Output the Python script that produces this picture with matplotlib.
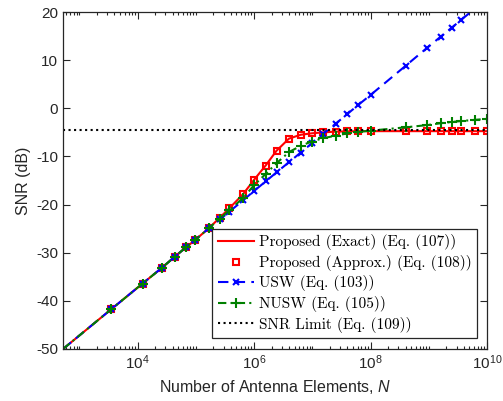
import numpy as np
import matplotlib
matplotlib.use('Agg')
import matplotlib.pyplot as plt
from matplotlib.ticker import FixedLocator, FixedFormatter, NullFormatter

plt.rcParams['font.family'] = ['Liberation Sans', 'DejaVu Sans']
plt.rcParams['mathtext.fontset'] = 'custom'
plt.rcParams['mathtext.rm'] = 'Liberation Sans'
plt.rcParams['mathtext.it'] = 'Liberation Sans:italic'
plt.rcParams['axes.unicode_minus'] = False

#--① data (first entry = start of curves at the left edge)
N = [5.25e2, 3.57e3, 1.22e4, 2.58e4, 4.38e4, 6.76e4, 9.66e4, 1.68e5, 2.59e5,
     3.75e5, 6.52e5, 9.95e5, 1.58e6, 2.44e6, 3.98e6, 6.32e6, 9.77e6, 1.55e7,
     2.52e7, 3.99e7, 6.17e7, 1.01e8, 4.03e8, 9.25e8, 1.61e9, 2.48e9, 3.59e9,
     6.24e9, 1.0e10]
snr_exact = [-50, -41.7, -36.4, -33.2, -30.8, -28.9, -27.4, -24.9, -22.7,
             -20.8, -17.8, -14.9, -11.9, -8.8, -6.3, -5.5, -5.2, -5.0,
             -4.85, -4.8, -4.75, -4.75, -4.75, -4.75, -4.75, -4.75, -4.75,
             -4.75, -4.75]
snr_approx = snr_exact
snr_usw = [-50, -41.7, -36.4, -33.2, -30.8, -28.9, -27.4, -24.9, -23.1,
           -21.5, -19.1, -17.2, -15.2, -13.3, -11.2, -9.2, -7.3, -5.3,
           -3.2, -1.2, 0.7, 2.8, 8.85, 12.5, 14.9, 16.75, 18.35,
           20.75, 22.9]
snr_nusw = [-50, -41.7, -36.4, -33.2, -30.8, -28.9, -27.4, -24.9, -22.9,
            -21.2, -18.6, -16.0, -13.65, -11.4, -9.1, -7.8, -6.9, -6.2,
            -5.7, -5.2, -4.9, -4.65, -3.95, -3.5, -3.1, -2.85, -2.65,
            -2.4, -2.2]
snr_limit = -4.6

xlim = (5.25e2, 1e10)
ylim = (-50, 20)
yticks = [-50, -40, -30, -20, -10, 0, 10, 20]
xticks = [1e4, 1e6, 1e8, 1e10]
xticklabels = [r'$\mathregular{10^{4}}$', r'$\mathregular{10^{6}}$',
               r'$\mathregular{10^{8}}$', r'$\mathregular{10^{10}}$']

#--② figure
fig = plt.figure(figsize=(5.03, 4.01), dpi=100)
ax = fig.add_axes([63/503, 52/401, 424/503, 337/401])

mk = slice(1, None)
ax.plot(N, snr_exact, '-', color='red', lw=1.5, label='Proposed (Exact) (Eq. (107))')
ax.plot(N[mk], snr_approx[mk], 's', color='red', mfc='none', ms=5, mew=1.5,
        label='Proposed (Approx.) (Eq. (108))')
ax.plot(N, snr_usw, '--', color='blue', lw=1.5, marker='x', ms=5, mew=1.5,
        markevery=mk, dashes=(5, 3), label='USW (Eq. (103))')
ax.plot(N, snr_nusw, '-.', color='green', lw=1.5, marker='+', ms=6.5, mew=1.5,
        markevery=mk, dashes=(4, 2, 1, 2), label='NUSW (Eq. (105))')
ax.plot(xlim, [snr_limit, snr_limit], ':', color='black', lw=1.5,
        label='SNR Limit (Eq. (109))')

ax.set_xscale('log')
ax.set_xlim(xlim)
ax.set_ylim(ylim)

#--③ ticks
ax.xaxis.set_major_locator(FixedLocator(xticks))
ax.xaxis.set_major_formatter(FixedFormatter(xticklabels))
minors = [m * 10.0**e for e in range(2, 10) for m in range(1, 10)
          if not (m == 1 and e % 2 == 0)]
ax.xaxis.set_minor_locator(FixedLocator(minors))
ax.xaxis.set_minor_formatter(NullFormatter())
ax.set_yticks(yticks)
ax.tick_params(which='both', direction='in', top=True, right=True,
               labelsize=11, colors='#262626', width=0.8)
ax.tick_params(which='major', length=5)
ax.tick_params(which='minor', length=2.5)
for s in ax.spines.values():
    s.set_color('#262626')
    s.set_linewidth(0.9)

ax.set_xlabel('Number of Antenna Elements, $\\mathit{N}$', fontsize=11.5, color='#262626')
ax.set_ylabel('SNR (dB)', fontsize=11.5, color='#262626')

leg = ax.legend(loc='lower right', bbox_to_anchor=(477/503, 63/401),
                bbox_transform=fig.transFigure, prop={'family': 'cmr10', 'size': 11},
                fancybox=False, edgecolor='#262626', framealpha=1,
                handlelength=2.4, handletextpad=0.3, labelspacing=0.3,
                borderpad=0.35, borderaxespad=0)
leg.get_frame().set_linewidth(0.9)

fig.savefig('out.png', dpi=100)
